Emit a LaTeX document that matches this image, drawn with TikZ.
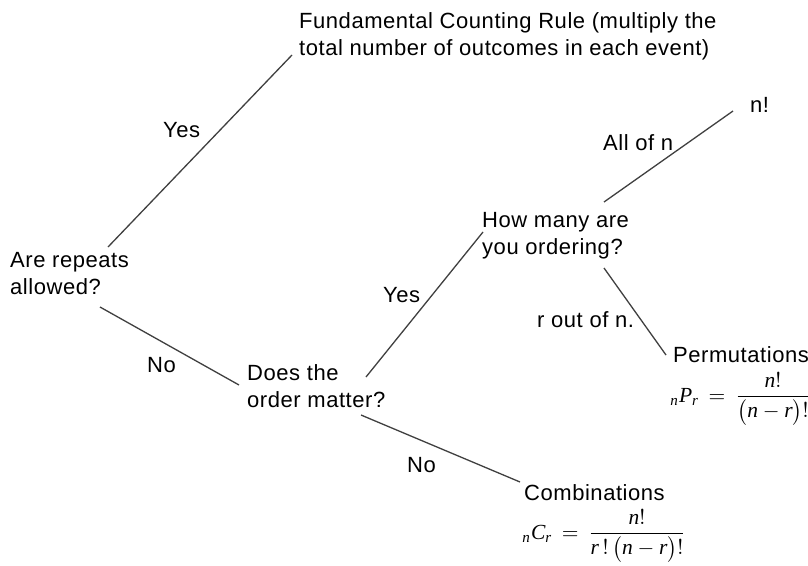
\documentclass[tikz,border=0pt]{standalone}
\usepackage{amsmath}
\usepackage{fontspec}
\setmainfont{Liberation Sans}[LetterSpace=2.5]
\newfontfamily\serfont{Liberation Serif}
\newcommand\vv[1]{\text{\serfont\itshape #1}}
\begin{document}
\tikzset{
  txt/.style={font=\fontsize{22}{27}\selectfont, inner sep=0pt, anchor=base west, align=left, text=black},
  formula/.style={font=\normalsize, scale=2.15, inner sep=0pt, anchor=west},
  branch/.style={draw=black!75, line width=1.3pt},
}
\begin{tikzpicture}[x=1pt,y=-1pt]
\useasboundingbox[fill=white] (0,0) rectangle (808,565);
% texts (anchor = baseline of the last line)
\node[txt] (fcr) at (299,55) {Fundamental Counting Rule (multiply the\\total number of outcomes in each event)};
\node[txt] (rep) at (10,294) {Are repeats\\allowed?};
\node[txt] (ord) at (247,407) {Does the\\order matter?};
\node[txt] (how) at (482,254) {How many are\\you ordering?};
\node[txt] (nfact) at (750,112) {n!};
\node[txt] (perm) at (673,362) {Permutations};
\node[formula] (permf) at (670,399) {$\displaystyle {}_{\vv{n}}\vv{P}_{\vv{r}}\,=\,\frac{\vv{n}!}{\bigl(\vv{n}-\vv{r}\bigr)!}$};
\node[txt] (comb) at (524,500) {Combinations};
\node[formula] (combf) at (522,536) {$\displaystyle {}_{\vv{n}}\vv{C}_{\vv{r}}\,=\,\frac{\vv{n}!}{\vv{r}\,!\,\bigl(\vv{n}-\vv{r}\bigr)!}$};
% labels
\node[txt] (yes1) at (163,137) {Yes};
\node[txt] (no1) at (147,372) {No};
\node[txt] (yes2) at (383,302) {Yes};
\node[txt] (no2) at (407,472) {No};
\node[txt] (alln) at (603,150) {All of n};
\node[txt] (rofn) at (537,327) {r out of n.};
% connector ends
\coordinate (repY) at (108,247);
\coordinate (fcrS) at (292,55);
\coordinate (repN) at (100,307);
\coordinate (ordS) at (239,385);
\coordinate (ordY) at (366,377);
\coordinate (howS) at (483,232);
\coordinate (howA) at (604,202);
\coordinate (nfS) at (733,111);
\coordinate (howR) at (604,268);
\coordinate (permS) at (666,355);
\coordinate (ordN) at (361,415);
\coordinate (combS) at (520,482);
\draw[branch] (repY) -- (fcrS);
\draw[branch] (repN) -- (ordS);
\draw[branch] (ordY) -- (howS);
\draw[branch] (howA) -- (nfS);
\draw[branch] (howR) -- (permS);
\draw[branch] (ordN) -- (combS);
\end{tikzpicture}
\end{document}
